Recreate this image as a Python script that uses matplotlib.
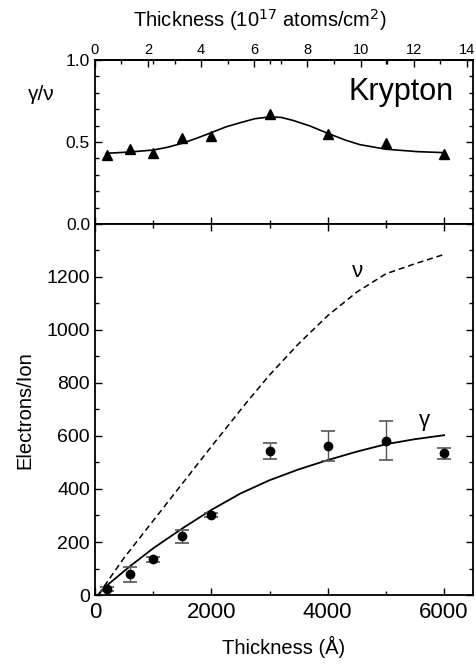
import numpy as np
import matplotlib
matplotlib.use("Agg")
import matplotlib.pyplot as plt
from matplotlib.ticker import MultipleLocator

plt.rcParams['font.family'] = ['Liberation Sans', 'DejaVu Sans']

# Measured points (thickness in Angstrom)
thick = [200, 600, 1000, 1500, 2000, 3000, 4000, 5000, 6000]
ratio = [0.42, 0.455, 0.435, 0.526, 0.538, 0.671, 0.547, 0.492, 0.425]
gamma = [22, 78, 134, 222, 302, 544, 562, 582, 534]
gamma_err = [7, 29, 11, 25, 6, 30, 58, 74, 20]

# fit of gamma/nu
ratio_fit_x = [200, 600, 1000, 1250, 1500, 1750, 2000, 2250, 2500, 2750, 3000,
               3200, 3400, 3700, 4000, 4300, 4550, 5000, 5550, 6000]
ratio_fit_y = [0.431, 0.439, 0.451, 0.468, 0.492, 0.523, 0.557, 0.592, 0.618,
               0.642, 0.653, 0.650, 0.632, 0.597, 0.553, 0.512, 0.484, 0.456,
               0.441, 0.435]

# gamma fit (solid) and nu (dashed)
gfit_x = [60, 200, 600, 1000, 1500, 2000, 2500, 3000, 3500, 4000, 4500, 5000, 5500, 6000]
gfit_y = [2, 35, 108, 176, 251, 321, 383, 433, 474, 509, 541, 569, 588, 603]
nu_x = [60, 500, 1000, 1500, 2000, 2600, 3000, 3500, 4000, 4500, 5000, 5500, 6000]
nu_y = [2, 140, 280, 420, 560, 725, 830, 948, 1054, 1143, 1212, 1250, 1285]

ANG_PER_UNIT = 456.5

fig = plt.figure(figsize=(4.77, 6.66), dpi=100)
ax1 = fig.add_axes([0.199, 0.6637, 0.793, 0.2462])
ax2 = fig.add_axes([0.199, 0.1066, 0.793, 0.5571])

for ax in (ax1, ax2):
    ax.set_xlim(0, 6500)
    for s in ax.spines.values():
        s.set_linewidth(1.3)
    ax.tick_params(which='both', direction='in', top=True, right=True, width=1.0)
    ax.tick_params(which='major', length=5)
    ax.tick_params(which='minor', length=3)
    ax.xaxis.set_major_locator(MultipleLocator(2000))
    ax.xaxis.set_minor_locator(MultipleLocator(1000))

# top panel
ax1.plot(ratio_fit_x, ratio_fit_y, color='black', lw=1.2)
ax1.plot(thick, ratio, '^', color='black', ms=7)
ax1.set_ylim(0, 1.0)
ax1.yaxis.set_major_locator(MultipleLocator(0.5))
ax1.yaxis.set_minor_locator(MultipleLocator(0.1))
ax1.yaxis.set_major_formatter(matplotlib.ticker.FormatStrFormatter('%.1f'))
ax1.tick_params(axis='x', labelbottom=False, top=False)
ax1.tick_params(axis='y', labelsize=12.5)
ax1.text(6170, 0.755, 'Krypton', fontsize=22, ha='right', va='baseline')
fig.text(41 / 477, 1 - 95 / 666, 'γ/ν', fontsize=15, ha='center', va='center')

sec = ax1.secondary_xaxis('top', functions=(lambda a: a / ANG_PER_UNIT,
                                            lambda n: n * ANG_PER_UNIT))
sec.xaxis.set_major_locator(MultipleLocator(2))
sec.xaxis.set_minor_locator(MultipleLocator(1))
sec.tick_params(which='both', direction='in', labelsize=10.5, width=1.0)
sec.tick_params(which='major', length=5, pad=2)
sec.tick_params(which='minor', length=3)
sec.spines['top'].set_linewidth(1.3)
fig.text(260 / 477, 1 - 20 / 666, 'Thickness (10$^{17}$ atoms/cm$^{2}$)',
         fontsize=14.5, ha='center', va='center')

# bottom panel
ax2.plot(nu_x, nu_y, color='black', lw=1.1, dashes=(4, 2.5))
ax2.plot(gfit_x, gfit_y, color='black', lw=1.3)
ax2.errorbar(thick, gamma, yerr=gamma_err, fmt='o', color='black', ms=6,
             ecolor='#555555', elinewidth=1.0, capsize=5, capthick=1.2)
ax2.set_ylim(0, 1400)
ax2.yaxis.set_major_locator(MultipleLocator(200))
ax2.yaxis.set_minor_locator(MultipleLocator(100))
ax2.yaxis.set_major_formatter(matplotlib.ticker.FuncFormatter(
    lambda v, p: '' if v >= 1400 else '%d' % v))
ax2.tick_params(axis='y', labelsize=14)
ax2.tick_params(axis='x', labelsize=16, pad=5)
ax2.text(4508, 1219, 'ν', fontsize=16, ha='center', va='center')
ax2.text(5655, 660, 'γ', fontsize=16, ha='center', va='center')
ax2.set_xlabel('Thickness (Å)', fontsize=14.5, labelpad=9)
fig.text(25 / 477, 1 - 410 / 666, 'Electrons/Ion', fontsize=14.5,
         rotation=90, ha='center', va='center')

fig.savefig('out.png', dpi=100)
